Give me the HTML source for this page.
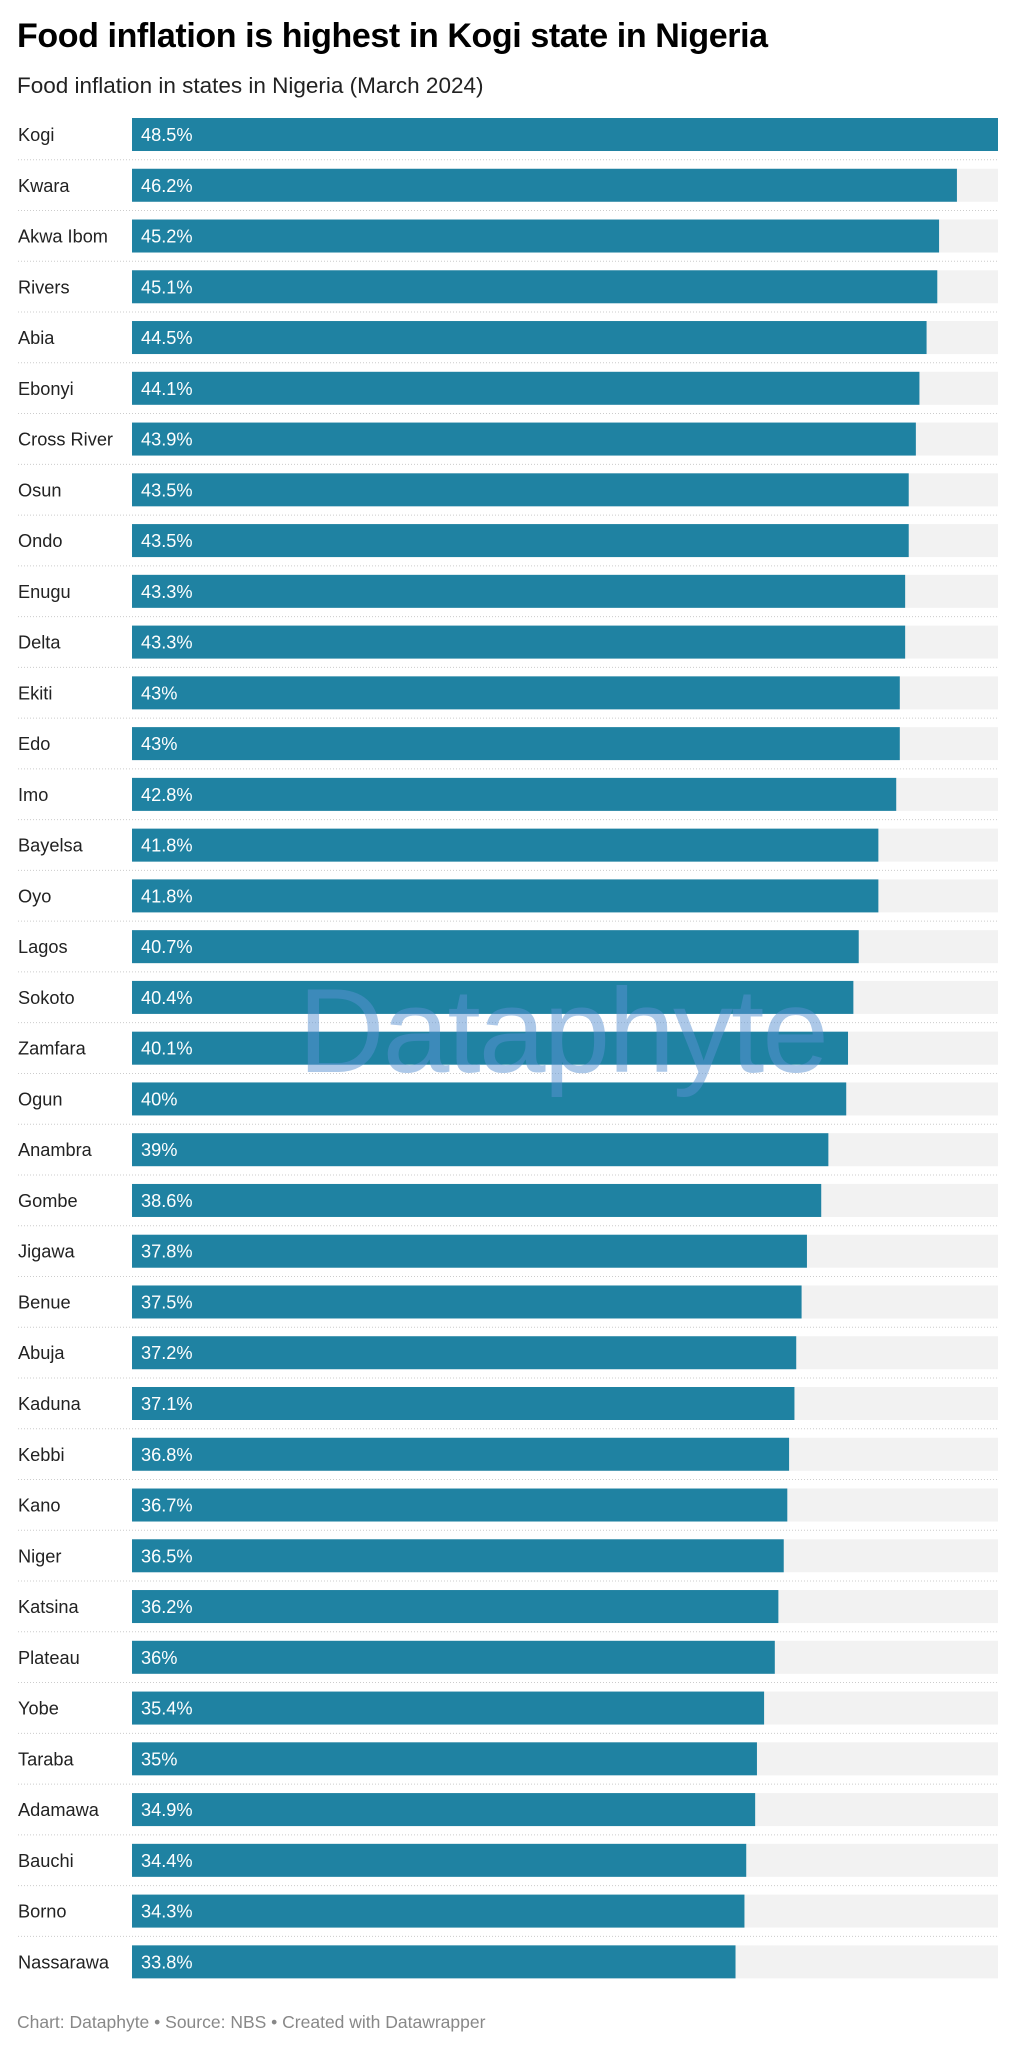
<!DOCTYPE html>
<html><head><meta charset="utf-8"><style>
body{margin:0;width:1015px;height:2048px;background:#fff;font-family:"Liberation Sans",sans-serif;position:relative;overflow:hidden}
h1{position:absolute;left:17px;top:17px;margin:0;font-size:34px;font-weight:bold;color:#000;letter-spacing:-0.4px}
.sub{position:absolute;left:17px;top:73px;font-size:22.5px;color:#222}
.foot{position:absolute;left:17px;top:2012px;font-size:17.5px;color:#888}
.wm{position:absolute;left:298px;top:962px;font-size:120px;color:rgba(90,145,210,0.5);letter-spacing:-2px;pointer-events:none}
</style></head><body>
<h1>Food inflation is highest in Kogi state in Nigeria</h1>
<div class="sub">Food inflation in states in Nigeria (March 2024)</div>
<svg id="chart" width="1015" height="2000" style="position:absolute;left:0;top:0"></svg>
<div class="wm">Dataphyte</div>
<div class="foot">Chart: Dataphyte • Source: NBS • Created with Datawrapper</div>
<script>
const states=["Kogi","Kwara","Akwa Ibom","Rivers","Abia","Ebonyi","Cross River","Osun","Ondo","Enugu","Delta","Ekiti","Edo","Imo","Bayelsa","Oyo","Lagos","Sokoto","Zamfara","Ogun","Anambra","Gombe","Jigawa","Benue","Abuja","Kaduna","Kebbi","Kano","Niger","Katsina","Plateau","Yobe","Taraba","Adamawa","Bauchi","Borno","Nassarawa"];
const values=[48.5,46.2,45.2,45.1,44.5,44.1,43.9,43.5,43.5,43.3,43.3,43,43,42.8,41.8,41.8,40.7,40.4,40.1,40,39,38.6,37.8,37.5,37.2,37.1,36.8,36.7,36.5,36.2,36,35.4,35,34.9,34.4,34.3,33.8];
const labels=["48.5%","46.2%","45.2%","45.1%","44.5%","44.1%","43.9%","43.5%","43.5%","43.3%","43.3%","43%","43%","42.8%","41.8%","41.8%","40.7%","40.4%","40.1%","40%","39%","38.6%","37.8%","37.5%","37.2%","37.1%","36.8%","36.7%","36.5%","36.2%","36%","35.4%","35%","34.9%","34.4%","34.3%","33.8%"];
const svg=document.getElementById('chart');
const NS='http://www.w3.org/2000/svg';
const x0=132,x1=998,top0=118,pitch=50.76,bh=33;
const maxV=Math.max(...values);
const xs=v=>x0+(x1-x0)*v/maxV;
const ys=i=>top0+i*pitch;
function mk(t,a){const e=document.createElementNS(NS,t);for(const k in a)e.setAttribute(k,a[k]);svg.appendChild(e);return e;}
states.forEach((s,i)=>{
  const y=ys(i);
  if(i>0){const l=mk('line',{x1:18,x2:998,y1:y-9,y2:y-9,stroke:'#ccc','stroke-width':1,'stroke-dasharray':'1 2'});
  
  }
  const bg=mk('rect',{x:x0,y:y,width:x1-x0,height:bh,fill:'#f2f2f2'});
  
  
  const b=mk('rect',{x:x0,y:y,width:xs(values[i])-x0,height:bh,fill:'#1f82a2'});
  
  
  const t=mk('text',{x:18,y:y+23,'font-size':18.2,fill:'#222','font-family':'Liberation Sans, sans-serif'});
  t.textContent=s;
  
  
  const v=mk('text',{x:141,y:y+23,'font-size':18.2,fill:'#fff','font-family':'Liberation Sans, sans-serif'});
  v.textContent=labels[i];
  
  
});
</script>
</body></html>
